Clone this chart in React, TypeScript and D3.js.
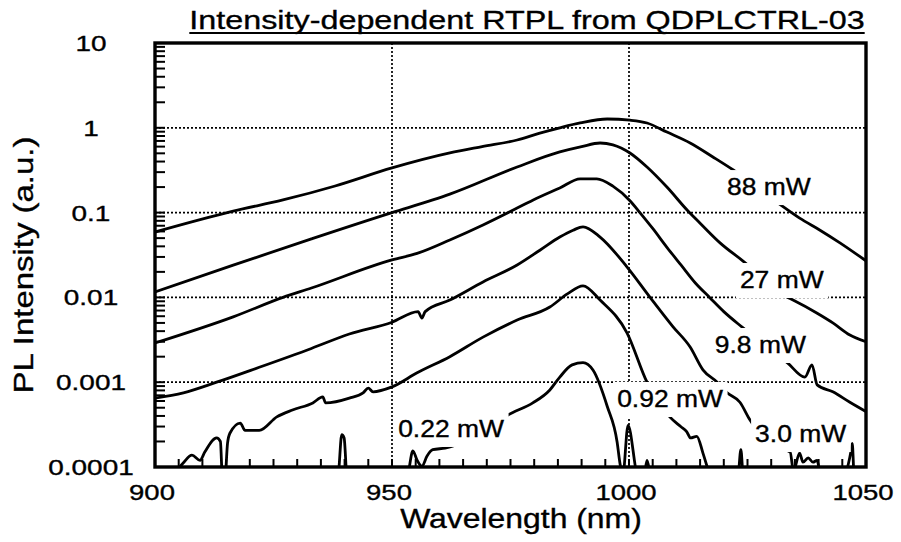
import React, { useEffect, useRef } from "react";
import * as d3 from "d3";

const FONT = '"Liberation Sans", Arial, Helvetica, sans-serif';

// ---- data: wavelength (nm) and PL intensity (a.u.) ----
const wl88 = [900, 916.5, 927, 938, 950, 962.2, 969, 976.4, 981, 985.4, 989.7, 995.4, 1000.2, 1003.8, 1008, 1012.9, 1017.7, 1022, 1031.4, 1036, 1040.3, 1044.5, 1050];
const pl88 = [0.059, 0.104, 0.141, 0.206, 0.336, 0.505, 0.6, 0.718, 0.86, 1.0, 1.14, 1.27, 1.23, 1.14, 0.89, 0.662, 0.453, 0.318, 0.13, 0.086, 0.062, 0.044, 0.027];

const wl27 = [900, 916.5, 933, 950, 958.6, 962.2, 976.4, 985.4, 990, 993.9, 996.6, 1000.2, 1003.8, 1008, 1012.4, 1015, 1019.2, 1024, 1033.3, 1034.6, 1039.7, 1043, 1046.6, 1050];
const pl27 = [0.0116, 0.024, 0.049, 0.1, 0.141, 0.165, 0.345, 0.519, 0.6, 0.662, 0.63, 0.505, 0.345, 0.2, 0.105, 0.075, 0.044, 0.027, 0.0101, 0.0093, 0.0065, 0.005, 0.0036, 0.003];

const wl98 = [900, 916.5, 927, 933, 950, 955.3, 962.2, 969.2, 976.4, 979.7, 985.4, 989.7, 993.2, 996.6, 1000.2, 1002.3, 1005, 1008, 1011, 1014, 1017, 1020, 1024, 1033.5, 1037.1, 1038.6, 1039.7, 1043, 1046.6, 1050];
const pl98 = [0.0029, 0.0059, 0.01, 0.0129, 0.0277, 0.033, 0.0475, 0.0714, 0.113, 0.14, 0.195, 0.25, 0.25, 0.205, 0.138, 0.1, 0.065, 0.039, 0.024, 0.0148, 0.01, 0.0068, 0.0044, 0.00168, 0.00115, 0.0016, 0.00093, 0.00077, 0.00058, 0.00045];

const wl30 = [900, 906, 913, 922, 933, 941, 950, 955.5, 956.3, 957, 962.2, 969.2, 976.4, 981.2, 985.4, 988.2, 990.3, 993.9, 999.6, 1004.4, 1009.3, 1012.9, 1015.6, 1018.6, 1020.7, 1023.4, 1025.5, 1030, 1034, 1034.7, 1036, 1036.7, 1037.8, 1038.8, 1039.7, 1040.4, 1045.5, 1046.3, 1046.8, 1047.1, 1047.5, 1050];
const pl30 = [0.00065, 0.00075, 0.001, 0.0015, 0.0025, 0.0037, 0.0051, 0.0068, 0.0057, 0.0068, 0.0093, 0.0152, 0.0241, 0.036, 0.0515, 0.062, 0.068, 0.0515, 0.0228, 0.0101, 0.0045, 0.0026, 0.0014, 0.001, 0.00075, 0.00058, 0.00036, 0.00018, 0.00015, 0.00009, 0.000146, 0.000114, 0.000128, 0.000114, 0.00012, 0.00008, 0.00008, 0.00011, 0.00015, 0.00019, 0.00008, 0.00008];

const wl092 = [900, 903.5, 905.9, 907.8, 909.5, 910.5, 913, 913.8, 914.2, 914.8, 915.3, 915.8, 918, 919, 922, 925.7, 929, 933.3, 935.4, 936, 941, 943.9, 945, 946, 950, 955.3, 962.2, 969.2, 976.4, 983.3, 987, 990.3, 993.9, 999.6, 1003.8, 1008.6, 1010.9, 1012.2, 1013, 1014.3, 1015.6, 1016.5, 1017, 1023, 1023.6, 1024.1, 1050];
const pl092 = [0.00008, 0.00008, 0.000111, 0.000138, 0.00012, 0.00015, 0.00022, 0.0002, 0.00008, 0.00008, 0.00019, 0.00025, 0.00033, 0.00027, 0.00027, 0.00039, 0.00047, 0.00057, 0.00067, 0.00057, 0.00065, 0.00075, 0.00085, 0.00077, 0.00088, 0.00129, 0.002, 0.0034, 0.0054, 0.0077, 0.011, 0.0137, 0.0093, 0.0038, 0.001, 0.00039, 0.0003, 0.00026, 0.00022, 0.00023, 0.000146, 0.0001, 0.00008, 0.00008, 0.00016, 0.00008, 0.00008];

const wl022 = [900, 938.6, 939.4, 939.9, 940.5, 953.2, 954.4, 955.3, 956.3, 957.4, 958.6, 961.2, 975.5, 979.7, 983.3, 985.4, 988, 990.3, 992.4, 995.4, 997.5, 998.1, 998.7, 999.8, 1001.9, 1003.2, 1003.8, 1004.6, 1050];
const pl022 = [0.00008, 0.00008, 0.00024, 0.00022, 0.00008, 0.00008, 0.000155, 0.00012, 0.000102, 0.000135, 0.00016, 0.000167, 0.00044, 0.00057, 0.00081, 0.00115, 0.0016, 0.0017, 0.00139, 0.00052, 0.000196, 0.00011, 0.00008, 0.00031, 0.00008, 0.00008, 0.00012, 0.00008, 0.00008];

const seriesWl = [wl88, wl27, wl98, wl30, wl092, wl022];
const seriesPl = [pl88, pl27, pl98, pl30, pl092, pl022];

// curve labels (anchored at left end of text / baseline, in data units)
const labelText = ["88 mW", "27 mW", "9.8 mW", "0.92 mW", "3.0 mW", "0.22 mW"];
const labelWl = [1020.7, 1023.4, 1018.1, 997.5, 1026.6, 951.3];
const labelPl = [0.161, 0.0129, 0.00221, 0.00051, 0.000197, 0.000226];

const yTickValues = [10, 1, 0.1, 0.01, 0.001, 0.0001];
const yTickLabels = ["10", "1", "0.1", "0.01", "0.001", "0.0001"];
const xTickValues = [900, 950, 1000, 1050];
const xTickLabels = ["900", "950", "1000", "1050"];
const xGridValues = [950, 1000];
const yGridValues = [1, 0.1, 0.01, 0.001];

const TITLE = "Intensity-dependent RTPL from QDPLCTRL-03";
const XLABEL = "Wavelength (nm)";
const YLABEL = "PL Intensity (a.u.)";

export default function App() {
  const ref = useRef<SVGSVGElement | null>(null);

  useEffect(() => {
    const svg = d3.select(ref.current);
    svg.selectAll("*").remove();
    const left = 155, right = 866, top = 43, bottom = 467;
    const x = d3.scaleLinear().domain([900, 1050]).range([left, right]);
    const y = d3.scaleLog().domain([1e-4, 10]).range([bottom, top]);

    svg.append("rect").attr("width", 901).attr("height", 542).attr("fill", "#fff");
    svg.append("defs").append("clipPath").attr("id", "plotclip")
      .append("rect").attr("x", left).attr("y", top).attr("width", right - left).attr("height", bottom - top);

    // grid
    const grid = svg.append("g").attr("stroke", "#000").attr("stroke-width", 1.7).attr("stroke-dasharray", "2,2");
    yGridValues.forEach((v) => grid.append("line").attr("x1", left).attr("x2", right).attr("y1", y(v)).attr("y2", y(v)));
    xGridValues.forEach((v) => grid.append("line").attr("x1", x(v)).attr("x2", x(v)).attr("y1", top).attr("y2", bottom));

    // curves
    const line = d3.line<[number, number]>().x((d) => x(d[0])).y((d) => y(d[1])).curve(d3.curveMonotoneX);
    const cg = svg.append("g").attr("clip-path", "url(#plotclip)");
    seriesWl.forEach((wl, i) => {
      const pts = wl.map((w, j) => [w, seriesPl[i][j]] as [number, number]);
      cg.append("path").attr("d", line(pts) || "").attr("fill", "none").attr("stroke", "#000")
        .attr("stroke-width", 2.8).attr("stroke-linejoin", "round").attr("stroke-linecap", "round");
    });

    // curve labels with white knock-out boxes
    const LSX = 1.15;
    labelText.forEach((t, i) => {
      const g = svg.append("g").attr("transform", `translate(${x(labelWl[i])},${y(labelPl[i])}) scale(${LSX},1)`);
      const rect = g.append("rect").attr("fill", "#fff");
      const txt = g.append("text").attr("font-family", FONT).attr("font-size", 23).attr("fill", "#000")
        .attr("stroke", "#000").attr("stroke-width", 0.35).text(t);
      const bb = (txt.node() as SVGTextElement).getBBox();
      rect.attr("x", bb.x - 4 / LSX).attr("width", bb.width + 8 / LSX).attr("y", -25).attr("height", 35);
    });

    // frame and ticks
    const ax = svg.append("g").attr("stroke", "#000");
    ax.append("rect").attr("x", left).attr("y", top).attr("width", right - left).attr("height", bottom - top)
      .attr("fill", "none").attr("stroke-width", 3.4);
    for (let k = -4; k <= 0; k++) {
      for (let m = 1; m <= 9; m++) {
        const v = m * Math.pow(10, k);
        ax.append("line").attr("x1", left).attr("x2", left + 10).attr("y1", y(v)).attr("y2", y(v)).attr("stroke-width", 2);
      }
    }
    d3.range(905, 1050, 5).forEach((v) => {
      ax.append("line").attr("x1", x(v)).attr("x2", x(v)).attr("y1", bottom).attr("y2", bottom - 8).attr("stroke-width", 2);
    });

    // text helper (reference font is horizontally wide and heavy)
    const stext = (tx: number, ty: number, str: string, size: number, sx: number, anchor: string, rot = 0) => {
      const g = svg.append("g").attr("transform", `translate(${tx},${ty})${rot ? ` rotate(${rot})` : ""} scale(${sx},1)`);
      return g.append("text").attr("font-family", FONT).attr("font-size", size).attr("fill", "#000")
        .attr("stroke", "#000").attr("stroke-width", 0.35).attr("text-anchor", anchor).text(str);
    };

    yTickValues.forEach((v, i) => stext(91, y(v) + 8, yTickLabels[i], 22, 1.27, "middle"));
    xTickValues.forEach((v, i) => stext(x(v) - 3, 500, xTickLabels[i], 22, 1.25, "middle"));
    stext(521, 528, XLABEL, 27.5, 1.16, "middle");
    stext(33, 265, YLABEL, 27, 1.22, "middle", -90);

    const TSX = 1.22;
    const tt = stext(527, 29, TITLE, 26.5, TSX, "middle");
    const tb = (tt.node() as SVGTextElement).getBBox();
    const half = (tb.width * TSX) / 2;
    svg.append("line").attr("x1", 527 - half).attr("x2", 527 + half).attr("y1", 33).attr("y2", 33)
      .attr("stroke", "#000").attr("stroke-width", 2);
  }, []);

  return <svg ref={ref} width={901} height={542} style={{ position: "absolute", left: 0, top: 0, display: "block" }} />;
}
